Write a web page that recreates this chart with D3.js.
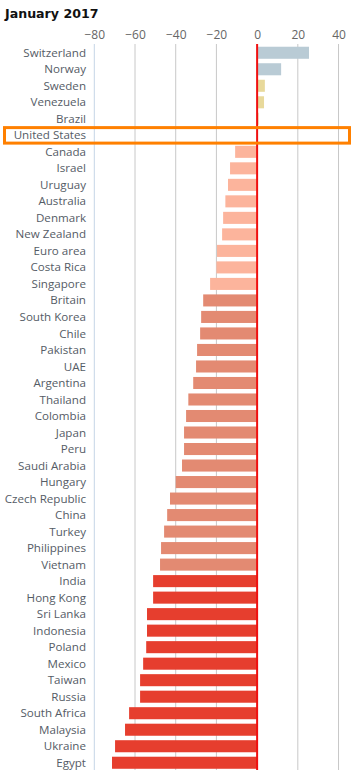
<!DOCTYPE html>
<html>
<head>
<meta charset="utf-8">
<script src="https://cdn.jsdelivr.net/npm/d3@7"></script>
<style>
  html, body { margin: 0; padding: 0; background: #fff; }
  svg { display: block; }
</style>
</head>
<body>
<svg id="chart" width="356" height="780"></svg>
<script>
const title = "January 2017";
const countries = ["Switzerland","Norway","Sweden","Venezuela","Brazil","United States","Canada","Israel","Uruguay","Australia","Denmark","New Zealand","Euro area","Costa Rica","Singapore","Britain","South Korea","Chile","Pakistan","UAE","Argentina","Thailand","Colombia","Japan","Peru","Saudi Arabia","Hungary","Czech Republic","China","Turkey","Philippines","Vietnam","India","Hong Kong","Sri Lanka","Indonesia","Poland","Mexico","Taiwan","Russia","South Africa","Malaysia","Ukraine","Egypt"];
const values = [25.5,11.8,3.8,3.4,0.7,0,-10.8,-13.3,-14.3,-15.6,-16.7,-17.2,-19.7,-20.0,-23.1,-26.5,-27.5,-28.0,-29.5,-30.0,-31.4,-33.8,-34.9,-35.9,-35.9,-36.9,-40.0,-42.8,-44.2,-45.7,-47.2,-47.7,-51.1,-51.1,-54.1,-54.1,-54.5,-56.0,-57.5,-57.5,-62.9,-64.9,-69.8,-71.3];
const groups = ["over","slight","under1","under2","under3"];
const groupOf = ["over","over","slight","slight","slight","slight","under1","under1","under1","under1","under1","under1","under1","under1","under1","under2","under2","under2","under2","under2","under2","under2","under2","under2","under2","under2","under2","under2","under2","under2","under2","under2","under3","under3","under3","under3","under3","under3","under3","under3","under3","under3","under3","under3"];
const groupColors = ["#b9cbd5","#e8d99b","#fcb49c","#e38a72","#e63e2e"];
const xTicks = [-80,-60,-40,-20,0,20,40];
const highlight = "United States";

const data = countries.map((c,i)=>({name:c, value:values[i], group:groupOf[i]}));

const svg = d3.select("#chart");
const x = d3.scaleLinear().domain([-80, 45]).range([94.3, 348.7]);
const y = d3.scaleBand().domain(countries).range([44.5, 771]).paddingInner(0.27).paddingOuter(0.135);
const color = d3.scaleOrdinal().domain(groups).range(groupColors);

svg.append("text").attr("x", 5).attr("y", 17.5)
  .attr("font-family", "DejaVu Sans, Verdana, sans-serif").attr("font-weight", "bold")
  .attr("font-size", 12.6).attr("fill", "#111").text(title);

// grid
const gTop = 44, gBottom = 770;
svg.append("g").selectAll("line").data(xTicks.filter(t=>t!==-80 && t!==0)).join("line")
  .attr("x1", d=>x(d)).attr("x2", d=>x(d)).attr("y1", gTop).attr("y2", gBottom)
  .attr("stroke", "#c8c8c8").attr("stroke-width", 1);
// left axis line
svg.append("line").attr("x1", x(-80)).attr("x2", x(-80)).attr("y1", gTop).attr("y2", gBottom)
  .attr("stroke", "#c5d5e6").attr("stroke-width", 1);

// top axis
const axis = d3.axisTop(x).tickValues(xTicks).tickSize(0).tickPadding(0).tickFormat(d3.format("d"));
const ag = svg.append("g").attr("transform", "translate(0,39)").call(axis);
ag.select(".domain").remove();
ag.selectAll("text").attr("font-family", "Open Sans, DejaVu Sans, sans-serif").attr("font-size", 12)
  .attr("fill", "#666").attr("dy", 0).text(d => d < 0 ? "\u2212" + Math.abs(d) : d);

// bars
svg.append("g").selectAll("rect").data(data).join("rect")
  .attr("x", d=>x(Math.min(0,d.value)))
  .attr("width", d=>Math.abs(x(d.value)-x(0)))
  .attr("y", d=>y(d.name)).attr("height", y.bandwidth())
  .attr("fill", d=>color(d.group));

// labels
svg.append("g").selectAll("text").data(data).join("text")
  .attr("x", 86).attr("y", d=>y(d.name)+y.bandwidth()/2).attr("dy", "0.35em")
  .attr("text-anchor", "end")
  .attr("font-family", "Open Sans, DejaVu Sans, sans-serif").attr("font-size", 11.6)
  .attr("fill", "#555c66").text(d=>d.name);

// zero line
svg.append("line").attr("x1", x(0)).attr("x2", x(0)).attr("y1", gTop).attr("y2", gBottom)
  .attr("stroke", "#f01010").attr("stroke-width", 2);

// highlight box
const hy = y(highlight) + y.bandwidth()/2;
svg.append("rect").attr("x", 4.5).attr("y", hy - 7.7).attr("width", 345).attr("height", 15.5)
  .attr("fill", "none").attr("stroke", "#ff8000").attr("stroke-width", 3);
</script>
</body>
</html>
